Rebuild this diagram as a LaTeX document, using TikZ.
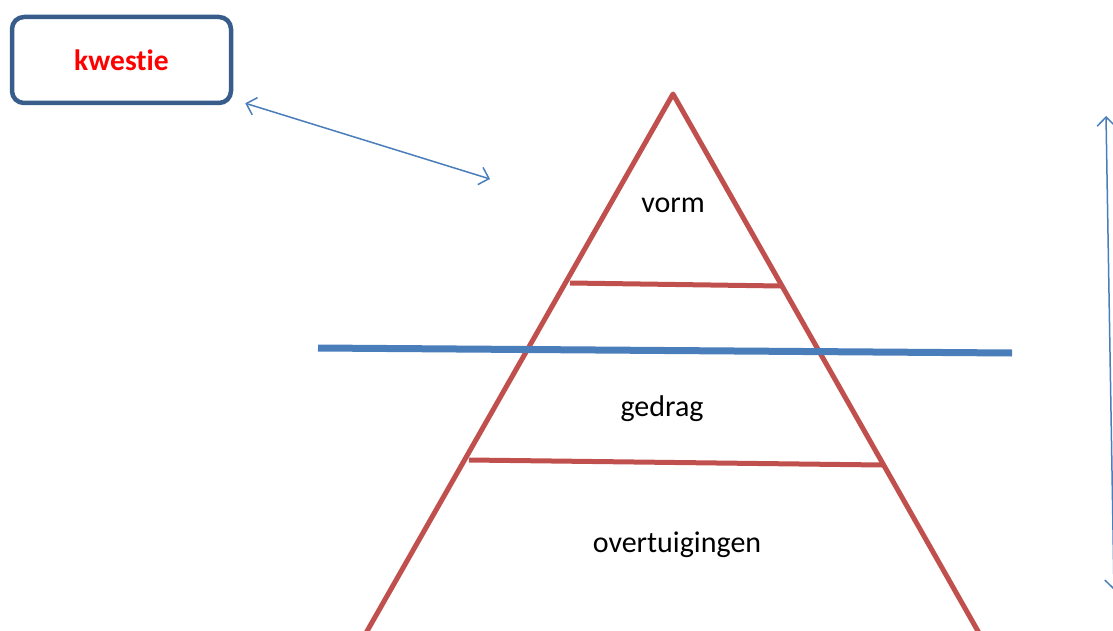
\documentclass[tikz,border=0pt]{standalone}
\usepackage{fontspec}
\setmainfont{Carlito}[Ligatures=NoCommon]
\usetikzlibrary{arrows.meta}
\definecolor{pyrred}{HTML}{C0504D}
\definecolor{boxblue}{HTML}{385D8A}
\definecolor{lineblue}{HTML}{4A7EBB}
\tikzset{
  issue/.style={rectangle,draw=boxblue,line width=4.5pt,rounded corners=12pt,minimum width=219pt,minimum height=86pt,
    text=red,font=\fontsize{29.5}{34}\selectfont\bfseries},
  layer/.style={font=\fontsize{30}{35}\selectfont},
  edge/.style={pyrred,line width=5pt},
  waterline/.style={lineblue,line width=7pt},
  line/.style={lineblue,line width=1.5pt,{Straight Barb[length=9pt,width=18pt]}-{Straight Barb[length=9pt,width=18pt]}}
}

\begin{document}
\begin{tikzpicture}[x=1pt,y=-1pt]
\useasboundingbox (0,0) rectangle (1113,631);
\node[issue] (k) at (121.5,60) {kwestie};
\node[layer] (v) at (673,205) {vorm};
\node[layer] (g) at (662,409) {gedrag};
\node[layer] (o) at (677,545) {overtuigingen};
\coordinate (kt) at (490,179);
\coordinate (top) at (1106,116);
\coordinate (bot) at (1114,590);
% pyramid
\draw[edge,line join=round] (362,640) -- (673,94) -- (983,640);
\draw[edge] (570,283) -- (781,286);
\draw[edge] (469,460) -- (882,465);
\draw[waterline] (318,348) -- (1012,353);
\draw[line] (k.south east) ++(12,-2) -- (kt);
\draw[line] (bot) -- (top);
\end{tikzpicture}
\end{document}
